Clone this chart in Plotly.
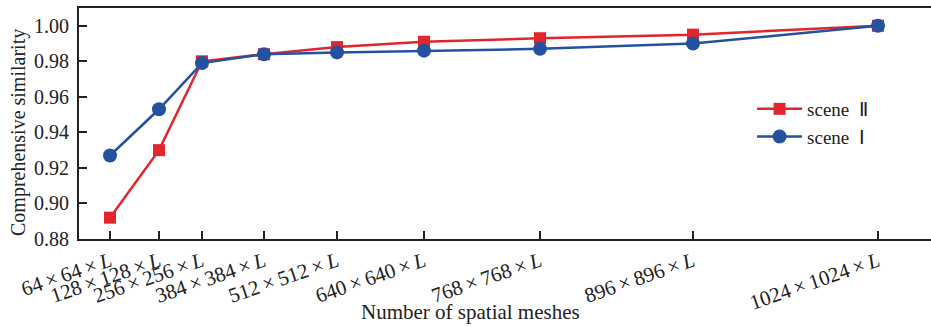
import plotly.graph_objects as go

mesh_sizes = ["64", "128", "256", "384", "512", "640", "768", "896", "1024"]
# horizontal position of each mesh size on the (non-uniform) axis
axis_pos = [110, 159, 202, 264, 337, 424, 540, 693, 878]
scene2 = [0.892, 0.930, 0.980, 0.984, 0.988, 0.991, 0.993, 0.995, 1.000]
scene1 = [0.927, 0.953, 0.979, 0.984, 0.985, 0.986, 0.987, 0.990, 1.000]
tick_labels = [f"{m}\u2009×\u2009{m}\u2009×\u2009<i>L</i>" for m in mesh_sizes]
y_ticks = [0.88, 0.90, 0.92, 0.94, 0.96, 0.98, 1.00]

FONT = "Liberation Serif, Times New Roman, serif"
RED = "#E3252C"
BLUE = "#2451A0"

fig = go.Figure()
fig.add_trace(go.Scatter(x=axis_pos, y=scene2, mode="lines+markers", name="scene  Ⅱ",
                         line=dict(color=RED, width=2.5),
                         marker=dict(symbol="square", size=12, color=RED)))
fig.add_trace(go.Scatter(x=axis_pos, y=scene1, mode="lines+markers", name="scene  Ⅰ",
                         line=dict(color=BLUE, width=2.5),
                         marker=dict(symbol="circle", size=14, color=BLUE)))

fig.update_layout(
    width=931, height=327,
    margin=dict(l=79, r=0, t=8, b=88),
    paper_bgcolor="white", plot_bgcolor="white",
    font=dict(family=FONT, size=21, color="#222"),
    showlegend=True,
    legend=dict(x=0.79, y=0.645, xanchor="left", yanchor="top",
                bgcolor="rgba(0,0,0,0)", font=dict(size=19), tracegroupgap=0,
                itemwidth=45),
    xaxis=dict(range=[79, 931], tickmode="array", tickvals=axis_pos, ticktext=tick_labels,
               tickangle=-19, ticks="inside", ticklen=8, tickwidth=2, tickcolor="#222",
               showline=True, linecolor="#222", linewidth=2, mirror=True,
               showgrid=False, zeroline=False, tickfont=dict(size=21)),
    yaxis=dict(range=[0.88, 1.01], tickmode="array", tickvals=y_ticks, tickformat=".2f",
               ticks="inside", ticklen=8, tickwidth=2, tickcolor="#222",
               showline=True, linecolor="#222", linewidth=2, ticklabelstandoff=4,
               showgrid=False, zeroline=False, tickfont=dict(size=20)),
    annotations=[
        dict(text="Comprehensive similarity", xref="paper", yref="paper",
             x=0, xshift=-61, y=(239 - 133) / 231, xanchor="center", yanchor="middle",
             textangle=-90, showarrow=False, font=dict(size=20)),
        dict(text="Number of spatial meshes", xref="paper", yref="paper",
             x=(470 - 79) / 852, y=0, yshift=-73, xanchor="center", yanchor="middle",
             showarrow=False, font=dict(size=21)),
    ],
)

fig.write_html("out.html")
